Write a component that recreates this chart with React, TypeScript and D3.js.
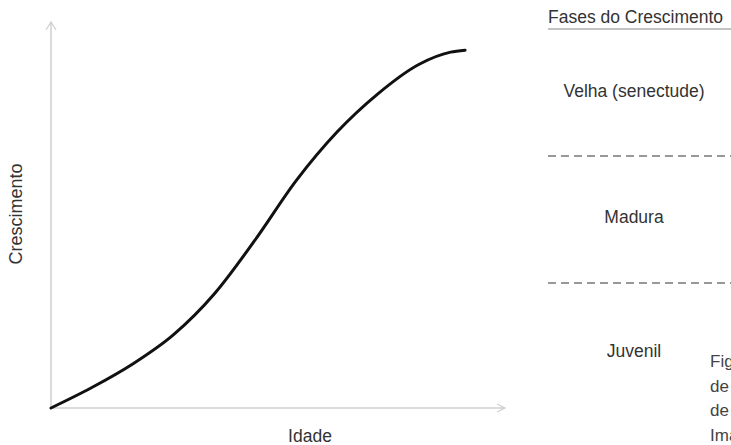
import React, { useEffect, useRef } from "react";
import * as d3 from "d3";

// curva de crescimento
const idade = [0, 9, 18, 27, 36, 45, 54, 63, 72, 81, 88, 91.2];
const crescimento = [0, 5.3, 11.4, 19.0, 29.6, 43.6, 58.9, 71.5, 81.4, 89.0, 92.2, 92.7];

// fases
const faseNomes = ["Velha (senectude)", "Madura", "Juvenil"];
const faseCentros = [82, 49.5, 14.8];
const faseLimites = [65.3, 32.4];

const legendaTitulo = "Fases do Crescimento";
const legendaLinhas = ["Figura", "de", "de", "Imagem"];

const W = 731;
const H = 445;

const App: React.FC = () => {
  const svgRef = useRef<SVGSVGElement | null>(null);

  useEffect(() => {
    if (!svgRef.current) return;
    const svg = d3.select(svgRef.current);
    svg.selectAll("*").remove();

    const font = "'Liberation Sans', Arial, Helvetica, sans-serif";
    const axisColor = "#cfcfcf";
    const textColor = "#333";

    const x = d3.scaleLinear().domain([0, 100]).range([51, 505]);
    const y = d3.scaleLinear().domain([0, 100]).range([408, 22]);

    // eixos
    const g = svg.append("g");
    g.append("line")
      .attr("x1", x(0)).attr("y1", y(0))
      .attr("x2", x(0)).attr("y2", y(100))
      .attr("stroke", axisColor).attr("stroke-width", 1.5);
    g.append("path")
      .attr("d", `M${x(0) - 5},${y(100) + 8}L${x(0)},${y(100)}L${x(0) + 5},${y(100) + 8}`)
      .attr("fill", "none").attr("stroke", axisColor).attr("stroke-width", 1.2);
    g.append("line")
      .attr("x1", x(0)).attr("y1", y(0))
      .attr("x2", x(100)).attr("y2", y(0))
      .attr("stroke", axisColor).attr("stroke-width", 1.5);
    g.append("path")
      .attr("d", `M${x(100) - 8},${y(0) - 4}L${x(100)},${y(0)}L${x(100) - 8},${y(0) + 4}`)
      .attr("fill", "none").attr("stroke", axisColor).attr("stroke-width", 1.2);

    // rótulos dos eixos
    svg.append("text")
      .attr("x", 310).attr("y", 442)
      .attr("text-anchor", "middle")
      .style("font-family", font).style("font-size", "17.5px")
      .attr("fill", textColor)
      .text("Idade");
    svg.append("text")
      .attr("transform", `translate(22,214) rotate(-90)`)
      .attr("text-anchor", "middle")
      .style("font-family", font).style("font-size", "18px")
      .attr("fill", textColor)
      .text("Crescimento");

    // curva
    const pts: [number, number][] = idade.map((d, i) => [d, crescimento[i]]);
    const line = d3.line<[number, number]>()
      .x(d => x(d[0]))
      .y(d => y(d[1]))
      .curve(d3.curveMonotoneX);
    svg.append("path")
      .datum(pts)
      .attr("d", line)
      .attr("fill", "none")
      .attr("stroke", "#111")
      .attr("stroke-width", 3)
      .attr("stroke-linecap", "round");

    // fases
    svg.append("text")
      .attr("x", 548).attr("y", 23)
      .style("font-family", font).style("font-size", "17.5px")
      .attr("fill", textColor)
      .text(legendaTitulo);
    svg.append("line")
      .attr("x1", 548).attr("x2", 731)
      .attr("y1", 29).attr("y2", 29)
      .attr("stroke", "#888").attr("stroke-width", 1.2);

    svg.selectAll("text.fase")
      .data(faseNomes)
      .enter()
      .append("text")
      .attr("class", "fase")
      .attr("x", 634)
      .attr("y", (d, i) => y(faseCentros[i]) + 6)
      .attr("text-anchor", "middle")
      .style("font-family", font).style("font-size", "17.5px")
      .attr("fill", textColor)
      .text(d => d);

    svg.selectAll("line.limite")
      .data(faseLimites)
      .enter()
      .append("line")
      .attr("class", "limite")
      .attr("x1", 548).attr("x2", 731)
      .attr("y1", d => y(d)).attr("y2", d => y(d))
      .attr("stroke", "#777")
      .attr("stroke-width", 1.5)
      .attr("stroke-dasharray", "8,5");

    svg.selectAll("text.legenda")
      .data(legendaLinhas)
      .enter()
      .append("text")
      .attr("class", "legenda")
      .attr("x", 710)
      .attr("y", (d, i) => 367 + i * 24.5)
      .style("font-family", font).style("font-size", "17px")
      .attr("fill", "#444")
      .text(d => d);
  }, []);

  return (
    <svg
      ref={svgRef}
      width={W}
      height={H}
      style={{ position: "absolute", left: 0, top: 0, background: "#fff" }}
    />
  );
};

export default App;
